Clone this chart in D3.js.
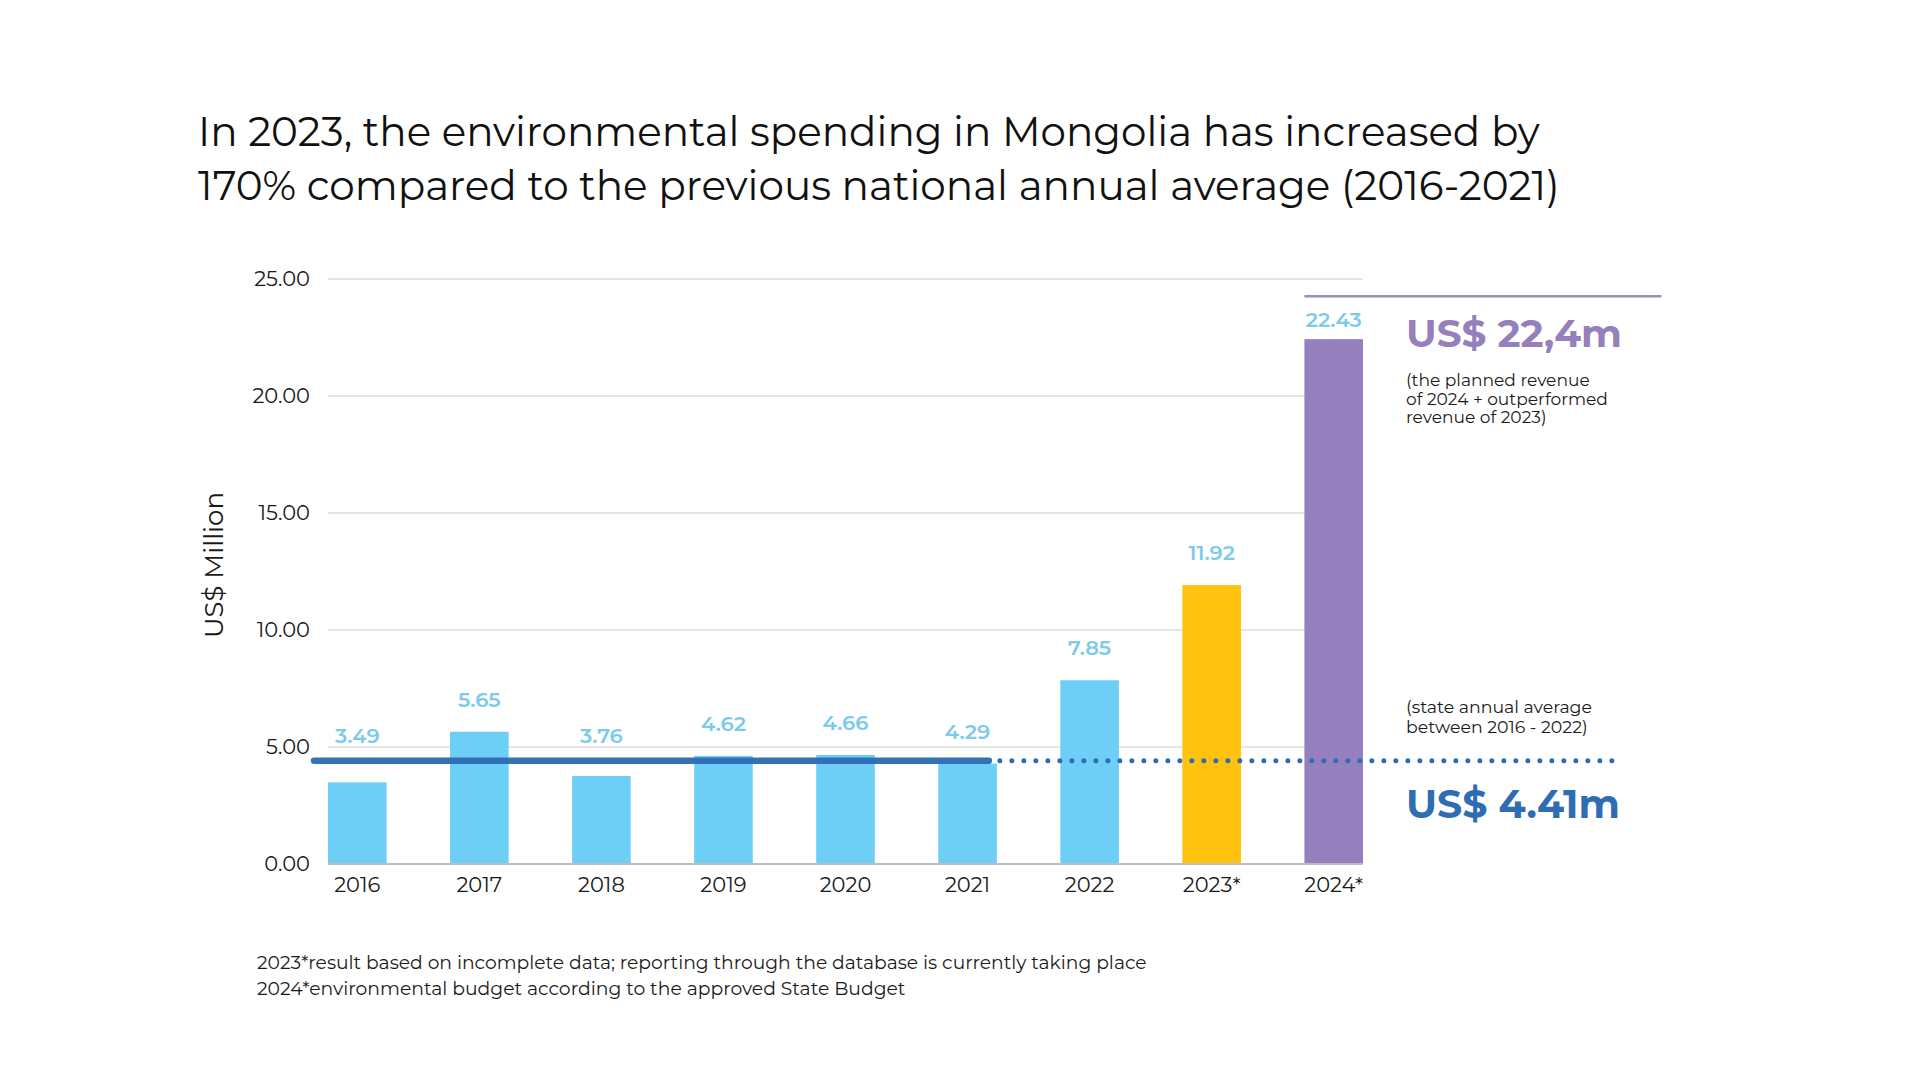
<!DOCTYPE html>
<html>
<head>
<meta charset="utf-8">
<script src="https://cdn.jsdelivr.net/npm/d3@7"></script>
<style>
  html, body { margin: 0; padding: 0; background: #fff; }
  svg { display: block; font-family: Montserrat, Inter, "Noto Sans", sans-serif; }
</style>
</head>
<body>
<svg id="chart" width="1920" height="1080"></svg>
<script>
const years = ['2016', '2017', '2018', '2019', '2020', '2021', '2022', '2023*', '2024*'];
const spending = [3.49, 5.65, 3.76, 4.62, 4.66, 4.29, 7.85, 11.92, 22.43];
const barColors = ['#6dcff6', '#6dcff6', '#6dcff6', '#6dcff6', '#6dcff6', '#6dcff6', '#6dcff6', '#ffc20e', '#957fbc'];
const yTicks = [0, 5, 10, 15, 20, 25];
const average = 4.41;
const averageYears = ['2016', '2021'];

const titleLines = [
  'In 2023, the environmental spending in Mongolia has increased by',
  '170% compared to the previous national annual average (2016-2021)'
];
const plannedNote = ['(the planned revenue', 'of 2024 + outperformed', 'revenue of 2023)'];
const averageNote = ['(state annual average', 'between 2016 - 2022)'];
const footnotes = [
  '2023*result based on incomplete data; reporting through the database is currently taking place',
  '2024*environmental budget according to the approved State Budget'
];

const svg = d3.select('#chart');

// scale font-size so the text runs to a given width
function fit(sel, width) {
  sel.each(function () {
    const t = d3.select(this);
    const fs = parseFloat(t.attr('font-size'));
    t.attr('font-size', fs * width / this.getComputedTextLength());
  });
}

const x = d3.scaleBand().domain(years).range([328, 1363]).paddingInner(0.52).paddingOuter(0);
const y = d3.scaleLinear().domain([0, 25]).range([864, 279]);

// title
svg.append('g').selectAll('text')
  .data(titleLines)
  .enter().append('text')
  .attr('x', 198)
  .attr('y', (d, i) => 145.7 + i * 54.3)
  .attr('font-size', 41)
  .attr('fill', '#111')
  .text(d => d)
  .each(function (d, i) { fit(d3.select(this), [1342, 1362][i]); });

// grid
svg.append('g').selectAll('line')
  .data(yTicks.filter(d => d > 0))
  .enter().append('line')
  .attr('x1', x.range()[0]).attr('x2', x.range()[1])
  .attr('y1', d => y(d)).attr('y2', d => y(d))
  .attr('stroke', '#dedede').attr('stroke-width', 1.5);

// y axis
const yAxis = svg.append('g')
  .attr('transform', `translate(${x.range()[0] - 18},0)`)
  .call(d3.axisLeft(y).tickValues(yTicks).tickFormat(d3.format('.2f')).tickSize(0).tickPadding(0))
  .attr('font-family', null)
  .attr('font-size', null);
yAxis.select('.domain').remove();
yAxis.selectAll('text')
  .attr('font-size', 21)
  .attr('fill', '#1a1a1a');

svg.append('text')
  .attr('transform', `translate(223,565) rotate(-90)`)
  .attr('text-anchor', 'middle')
  .attr('font-size', 28)
  .attr('fill', '#1a1a1a')
  .text('US$ Million')
  .call(fit, 146);

// bars
svg.append('g').selectAll('rect')
  .data(spending)
  .enter().append('rect')
  .attr('x', (d, i) => x(years[i]))
  .attr('width', x.bandwidth())
  .attr('y', d => y(d))
  .attr('height', d => y(0) - y(d))
  .attr('fill', (d, i) => barColors[i]);

// baseline
svg.append('line')
  .attr('x1', x.range()[0]).attr('x2', x.range()[1])
  .attr('y1', y(0)).attr('y2', y(0))
  .attr('stroke', '#bdbdbd').attr('stroke-width', 2);

// x axis
const xAxis = svg.append('g')
  .attr('transform', `translate(0,${y(0)})`)
  .call(d3.axisBottom(x).tickSize(0).tickPadding(0))
  .attr('font-family', null)
  .attr('font-size', null);
xAxis.select('.domain').remove();
xAxis.selectAll('text')
  .attr('font-size', 21)
  .attr('fill', '#1a1a1a')
  .attr('dy', 27.5);

// average line: solid over 2016-2021, dotted beyond
const avgY = y(average);
const solidEnd = x(averageYears[1]) + x.bandwidth() - 8;
svg.append('line')
  .attr('x1', x(averageYears[0]) - 14).attr('x2', solidEnd)
  .attr('y1', avgY).attr('y2', avgY)
  .attr('stroke', '#2e6db4').attr('stroke-width', 6.5).attr('stroke-linecap', 'round')
  .attr('opacity', 0.97);
svg.append('line')
  .attr('x1', solidEnd + 11).attr('x2', x.range()[1] + 250)
  .attr('y1', avgY).attr('y2', avgY)
  .attr('stroke', '#2e6db4').attr('stroke-width', 5).attr('stroke-linecap', 'round')
  .attr('stroke-dasharray', '0 12');

// rule above the 2024 bar
const last = years[years.length - 1];
const ruleY = y(spending[spending.length - 1]) - 43;
svg.append('line')
  .attr('x1', x(last)).attr('x2', x(last) + 357)
  .attr('y1', ruleY).attr('y2', ruleY)
  .attr('stroke', '#9b8fbd').attr('stroke-width', 2.5);

// value labels
svg.append('g').selectAll('text')
  .data(spending)
  .enter().append('text')
  .attr('x', (d, i) => x(years[i]) + x.bandwidth() / 2)
  .attr('y', d => Math.max(Math.min(y(d) - 25, avgY - 18), ruleY + 31))
  .attr('text-anchor', 'middle')
  .attr('font-size', 21)
  .attr('font-weight', 600)
  .attr('fill', '#7ccbeb')
  .text(d => d3.format('.2f')(d));

// right annotations
const noteX = x.range()[1] + 43;
const topY = y(spending[spending.length - 1]);

svg.append('text')
  .attr('x', noteX).attr('y', topY + 8)
  .attr('font-size', 42).attr('font-weight', 700)
  .attr('fill', '#957fbc')
  .text('US$ 22,4m')
  .call(fit, 216);

const planned = svg.append('g').selectAll('text')
  .data(plannedNote)
  .enter().append('text')
  .attr('x', noteX)
  .attr('y', (d, i) => topY + 47 + i * 18.6)
  .attr('font-size', 18)
  .attr('fill', '#1a1a1a')
  .text(d => d);
planned.filter((d, i) => i === 1).call(fit, 202);
planned.attr('font-size', planned.filter((d, i) => i === 1).attr('font-size'));

const avgNote = svg.append('g').selectAll('text')
  .data(averageNote)
  .enter().append('text')
  .attr('x', noteX)
  .attr('y', (d, i) => avgY - 48 + i * 20)
  .attr('font-size', 18)
  .attr('fill', '#1a1a1a')
  .text(d => d);
avgNote.filter((d, i) => i === 0).call(fit, 186);
avgNote.attr('font-size', avgNote.filter((d, i) => i === 0).attr('font-size'));

svg.append('text')
  .attr('x', noteX).attr('y', avgY + 57.5)
  .attr('font-size', 41).attr('font-weight', 700)
  .attr('fill', '#2e6db4')
  .text('US$ ' + average + 'm')
  .call(fit, 214);

// footnotes
svg.append('g').selectAll('text')
  .data(footnotes)
  .enter().append('text')
  .attr('x', 257)
  .attr('y', (d, i) => 969 + i * 26)
  .attr('font-size', 19)
  .attr('fill', '#1a1a1a')
  .text(d => d)
  .each(function (d, i) { fit(d3.select(this), [890, 649][i]); });
</script>
</body>
</html>
